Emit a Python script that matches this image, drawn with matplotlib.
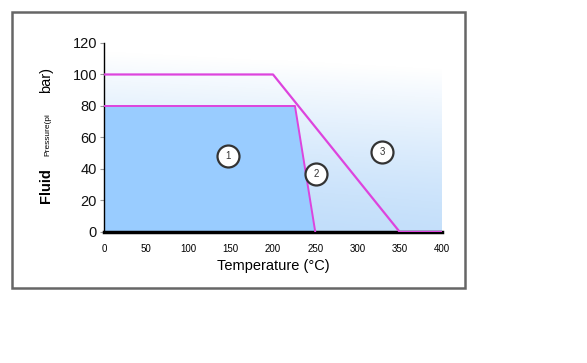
import numpy as np
import matplotlib
matplotlib.use("Agg")
import matplotlib.pyplot as plt
from matplotlib.patches import Rectangle

plt.rcParams['font.family'] = ['Liberation Sans', 'DejaVu Sans']

# Data
outer_T = [0, 200, 350, 400]
outer_P = [100, 100, 0, 0]
inner_T = [0, 226, 250]
inner_P = [80, 80, 0]
zone_labels = ["1", "2", "3"]
zone_T = [147, 251, 329]
zone_P = [48, 37, 51]
x_ticks = [0, 50, 100, 150, 200, 250, 300, 350, 400]
y_ticks = [0, 20, 40, 60, 80, 100, 120]

fig = plt.figure(figsize=(5.87, 3.63), dpi=100)
fig.patch.set_facecolor("white")

# outer frame
fig.patches.append(Rectangle((0.0204, 0.2066), 0.7717, 0.7603, transform=fig.transFigure,
                             fill=False, edgecolor="#666666", linewidth=1.8))

ax = fig.add_axes([0.1772, 0.3609, 0.5758, 0.5207])
ax.set_xlim(0, 400)
ax.set_ylim(0, 120)

# gradient background
ny = 200
grad = np.linspace(0, 1, ny)[:, None]  # bottom->top
hx = np.linspace(0, 1, 100)[None, :]
bottom = np.array([0.74, 0.86, 0.98])
top = np.array([1.0, 1.0, 1.0])
t = np.clip(grad ** 1.3 * 1.0 + 0.12 * hx, 0, 1)
img = bottom[None, None, :] * (1 - t[..., None]) + top[None, None, :] * t[..., None]
ax.imshow(img, origin="lower", extent=[0, 400, 0, 114], aspect="auto", zorder=0)

# zone 1 fill
ax.fill(inner_T + [0], inner_P + [0], color="#99ccff", zorder=1, linewidth=0)

ax.plot(outer_T, outer_P, color="#dd44dd", linewidth=1.6, zorder=3)
ax.plot(inner_T, inner_P, color="#dd44dd", linewidth=1.4, zorder=3)

ax.scatter(zone_T, zone_P, s=250, facecolor="white", edgecolor="#333333", linewidth=1.6, zorder=4)
for lab, tx, py in zip(zone_labels, zone_T, zone_P):
    ax.text(tx, py, lab, ha="center", va="center", fontsize=7, color="#333333", zorder=5)

for s in ["top", "right"]:
    ax.spines[s].set_visible(False)
ax.spines["bottom"].set_linewidth(2.5)
ax.spines["left"].set_linewidth(1.0)

ax.set_xticks(x_ticks)
ax.set_xticklabels([str(v) for v in x_ticks], fontsize=7)
ax.set_yticks(y_ticks)
ax.set_yticklabels([str(v) for v in y_ticks], fontsize=10.5, color="#111111")
ax.tick_params(axis="x", length=0, pad=9)
ax.tick_params(axis="y", length=3, color="#999999", pad=2)
ax.set_xlabel("Temperature (°C)", fontsize=10.5, labelpad=3)

fig.text(0.078, 0.49, "Fluid", rotation=90, fontsize=10.5, fontweight="bold", ha="center", va="center")
fig.text(0.082, 0.628, "Pressure(pi", rotation=90, fontsize=6, ha="center", va="center")
fig.text(0.078, 0.78, "bar)", rotation=90, fontsize=10.5, ha="center", va="center")

fig.savefig("out.png", dpi=100)
